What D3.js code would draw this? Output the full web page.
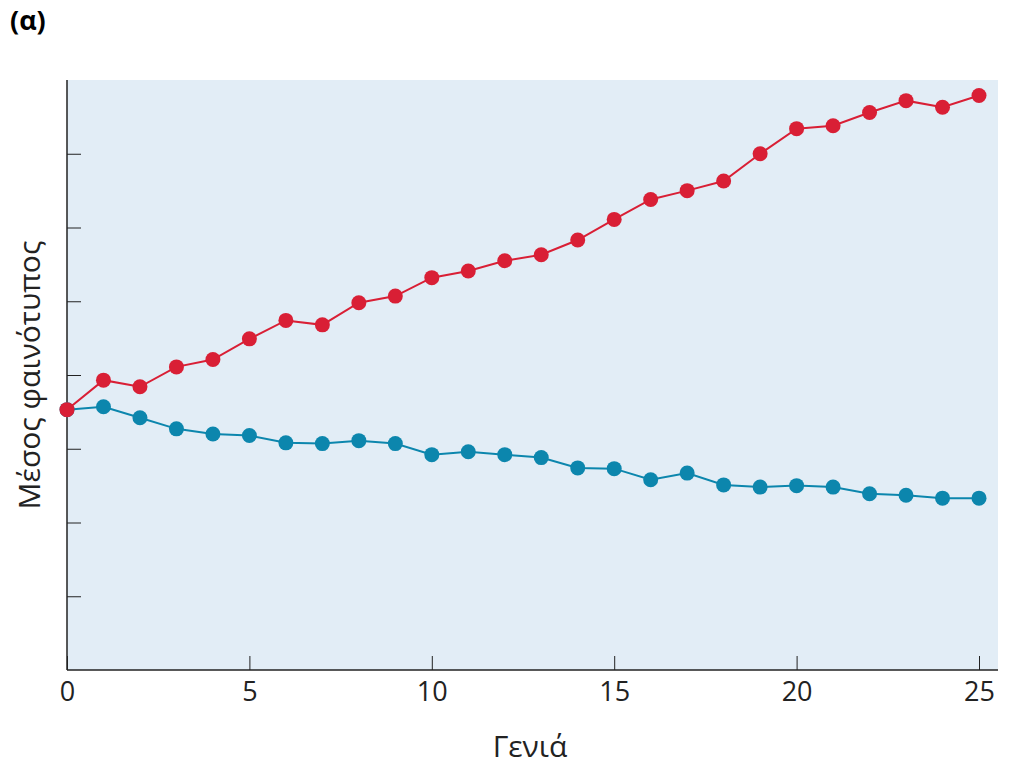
<!DOCTYPE html>
<html><head><meta charset="utf-8">
<script src="https://cdn.jsdelivr.net/npm/d3@7"></script>
<style>body{margin:0;background:#fff}text{font-family:"Open Sans",sans-serif}</style>
</head><body>
<script>
const generations = d3.range(0, 26);
const redValues = [3.53,3.93,3.84,4.11,4.21,4.49,4.74,4.68,4.98,5.07,5.32,5.41,5.55,5.63,5.83,6.11,6.38,6.50,6.63,7.00,7.34,7.38,7.56,7.72,7.63,7.79];
const blueValues = [3.53,3.57,3.42,3.27,3.20,3.18,3.08,3.07,3.11,3.07,2.92,2.96,2.92,2.88,2.74,2.73,2.58,2.67,2.51,2.48,2.50,2.48,2.39,2.37,2.33,2.33];
const xTicks = [0, 5, 10, 15, 20, 25];
const yTicks = [1, 2, 3, 4, 5, 6, 7];

const svg = d3.select("body").append("svg").attr("width", 1024).attr("height", 784);
const x = d3.scaleLinear().domain([0, 25]).range([67, 979]);
const y = d3.scaleLinear().domain([0, 8]).range([670, 80]);

svg.append("rect").attr("x", 67).attr("y", 80).attr("width", 931).attr("height", 590).attr("fill", "#e2edf6");

svg.append("g").attr("transform", "translate(0,670)")
  .call(d3.axisBottom(x).tickValues(xTicks).tickSize(-14).tickPadding(12).tickSizeOuter(0))
  .call(g => g.select(".domain").attr("d", "M67,0H998").attr("stroke", "#222").attr("stroke-width", 1.5))
  .call(g => g.selectAll(".tick line").attr("stroke", "#222"))
  .call(g => g.selectAll("text").attr("font-size", 27).attr("fill", "#222"));
svg.append("g").attr("transform", "translate(67,0)")
  .call(d3.axisLeft(y).tickValues(yTicks).tickSize(-14).tickFormat("").tickSizeOuter(0))
  .call(g => g.select(".domain").attr("d", "M0,80V670").attr("stroke", "#222").attr("stroke-width", 1.5))
  .call(g => g.selectAll(".tick line").attr("stroke", "#222"));

function series(vals, color) {
  const pts = generations.map((g, i) => [g, vals[i]]);
  svg.append("path").datum(pts).attr("fill", "none").attr("stroke", color).attr("stroke-width", 2)
    .attr("d", d3.line().x(d => x(d[0])).y(d => y(d[1])));
  svg.append("g").selectAll("circle").data(pts).join("circle")
    .attr("cx", d => x(d[0])).attr("cy", d => y(d[1])).attr("r", 7.5).attr("fill", color);
}
series(blueValues, "#0c86ad");
series(redValues, "#d91f35");

svg.append("text").attr("x", 10).attr("y", 30).attr("font-size", 27).attr("font-weight", "bold").text("(α)");
svg.append("text").attr("x", 530).attr("y", 757).attr("text-anchor", "middle").attr("font-size", 30).attr("fill", "#222").text("Γενιά");
svg.append("text").attr("transform", "translate(40,375) rotate(-90)").attr("text-anchor", "middle").attr("font-size", 30).attr("fill", "#222").text("Μέσος φαινότυπος");
</script>
</body></html>
